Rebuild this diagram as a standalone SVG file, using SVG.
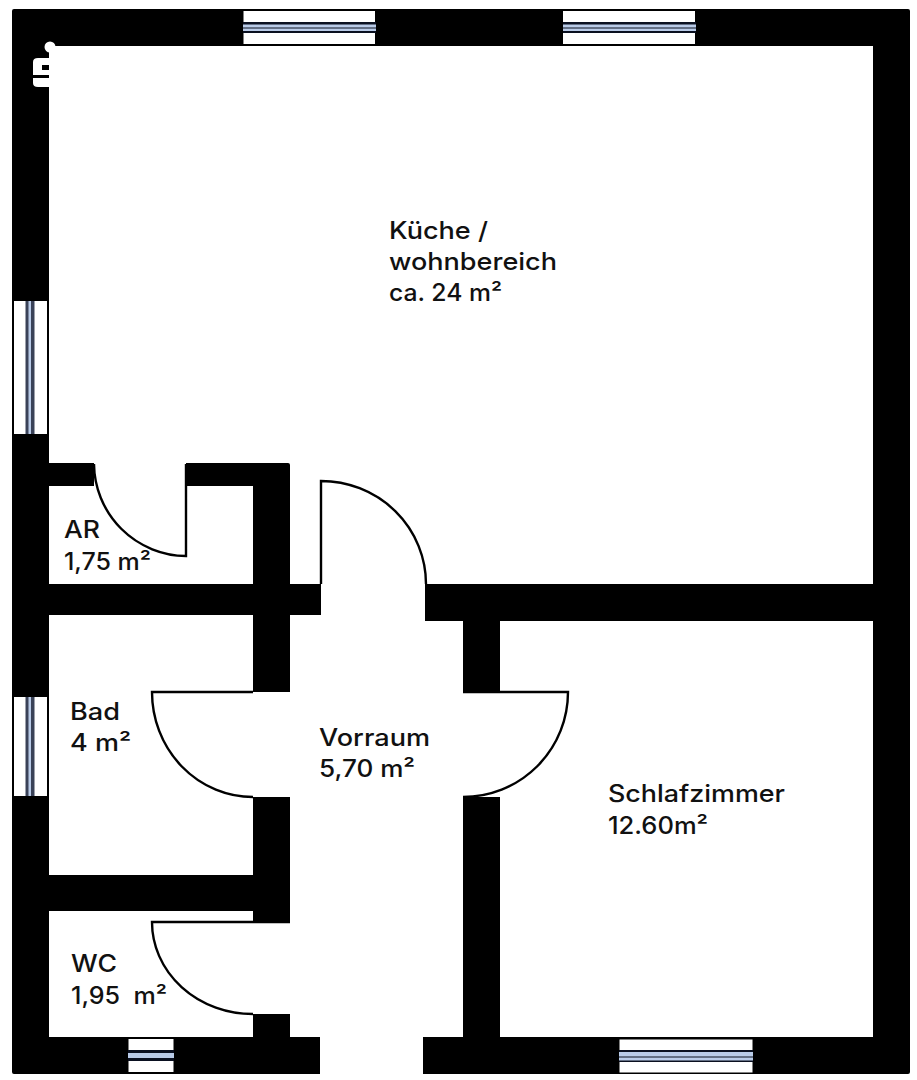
<svg xmlns="http://www.w3.org/2000/svg" width="917" height="1080" viewBox="0 0 917 1080">
<style>
.wall{fill:#000}
.door{fill:none;stroke:#000;stroke-width:2.400}
.pane{fill:#fff}
.glass{fill:#b9cbe8}
.sep{fill:#0a1020}
text{font-family:"Inter","Liberation Sans",sans-serif;font-size:24px;fill:#111;font-weight:500}
</style>
<rect width="917" height="1080" fill="#fff"/>
<g id="walls">
<path class="wall" d="M14 9H908Q910 9 910 11V1072Q910 1074 908 1074H423V1037H463V797H500V1037H873V621H500V692H463V621H425V584H873V46H49V463H94V486H49V584H253V486H186V463H288Q290 463 290 465V584H321V615H290V692H253V615H49V875H253V797H290V922H253V911H49V1037H253V1014H290V1037H320V1074H14Q12 1074 12 1072V11Q12 9 14 9Z"/>
<path fill="#fff" d="M482 796.500Q490 796 497 793V796.500Z"/>
</g>
<g id="connectors">
<path class="door" d="M94 464A93 93 0 0 0 186 556V464"/>
<path class="door" d="M321 584V481A105 103 0 0 1 426 584"/>
<path class="door" d="M253 692H152A101 105 0 0 0 253 797"/>
<path class="door" d="M463 692H568A105 105 0 0 1 463 797"/>
<path class="door" d="M290 922H152A101 92 0 0 0 253 1014"/>
</g>
<g id="window-top-1"><rect class="pane" x="243.500" y="11" width="131.500" height="33"/><rect class="sep" x="243" y="22" width="133" height="11"/><rect class="glass" x="243" y="24.500" width="133" height="3"/><rect class="glass" x="243" y="28.500" width="133" height="2.500"/></g>
<g id="window-top-2"><rect class="pane" x="563" y="11" width="132" height="33"/><rect class="sep" x="563" y="22" width="133" height="11"/><rect class="glass" x="563" y="24.500" width="133" height="3"/><rect class="glass" x="563" y="28.500" width="133" height="2.500"/></g>
<g id="window-left-1"><rect class="pane" x="14" y="301" width="33" height="133"/><rect x="25.500" y="301" width="9" height="133" fill="#3a4258"/><rect class="glass" x="28.500" y="301" width="2.500" height="133"/></g>
<g id="window-left-2"><rect class="pane" x="14" y="697" width="33" height="99"/><rect x="25.500" y="697" width="9" height="99" fill="#3a4258"/><rect class="glass" x="28.500" y="697" width="2.500" height="99"/></g>
<g id="window-wc"><rect class="pane" x="128.500" y="1039" width="45" height="33"/><rect class="sep" x="128" y="1050" width="46" height="11"/><rect class="glass" x="128" y="1053" width="46" height="5"/></g>
<g id="window-bottom"><rect class="pane" x="619.500" y="1039.500" width="133" height="33"/><rect class="sep" x="619" y="1050" width="134" height="12"/><rect class="glass" x="619" y="1052" width="134" height="4.500"/><rect class="glass" x="619" y="1057.500" width="134" height="3"/></g>
<g id="logo">
<circle cx="50" cy="47" r="5.500" fill="#fff"/>
<path fill="#fff" d="M38 58H50V65H42V70H50V75H33V62Q33 58 38 58ZM33 78H50V87H38Q33 87 33 83Z"/>
</g>
<g id="kueche"><text x="389" y="239" textLength="99" lengthAdjust="spacingAndGlyphs">Küche /</text><text x="389" y="270" textLength="168" lengthAdjust="spacingAndGlyphs">wohnbereich</text><text x="389" y="301" textLength="113" lengthAdjust="spacingAndGlyphs">ca. 24 m²</text></g>
<g id="ar"><text x="64" y="538" textLength="36" lengthAdjust="spacingAndGlyphs">AR</text><text x="64" y="570" textLength="87" lengthAdjust="spacingAndGlyphs">1,75 m²</text></g>
<g id="bad"><text x="70" y="720" textLength="50" lengthAdjust="spacingAndGlyphs">Bad</text><text x="70" y="751" textLength="61" lengthAdjust="spacingAndGlyphs">4 m²</text></g>
<g id="vorraum"><text x="319" y="746" textLength="111" lengthAdjust="spacingAndGlyphs">Vorraum</text><text x="319" y="777" textLength="96" lengthAdjust="spacingAndGlyphs">5,70 m²</text></g>
<g id="schlafzimmer"><text x="608" y="802" textLength="177" lengthAdjust="spacingAndGlyphs">Schlafzimmer</text><text x="608" y="834" textLength="100" lengthAdjust="spacingAndGlyphs">12.60m²</text></g>
<g id="wc"><text x="71" y="972" textLength="46" lengthAdjust="spacingAndGlyphs">WC</text><text x="71" y="1004" textLength="96" lengthAdjust="spacingAndGlyphs" xml:space="preserve">1,95  m²</text></g>
</svg>
